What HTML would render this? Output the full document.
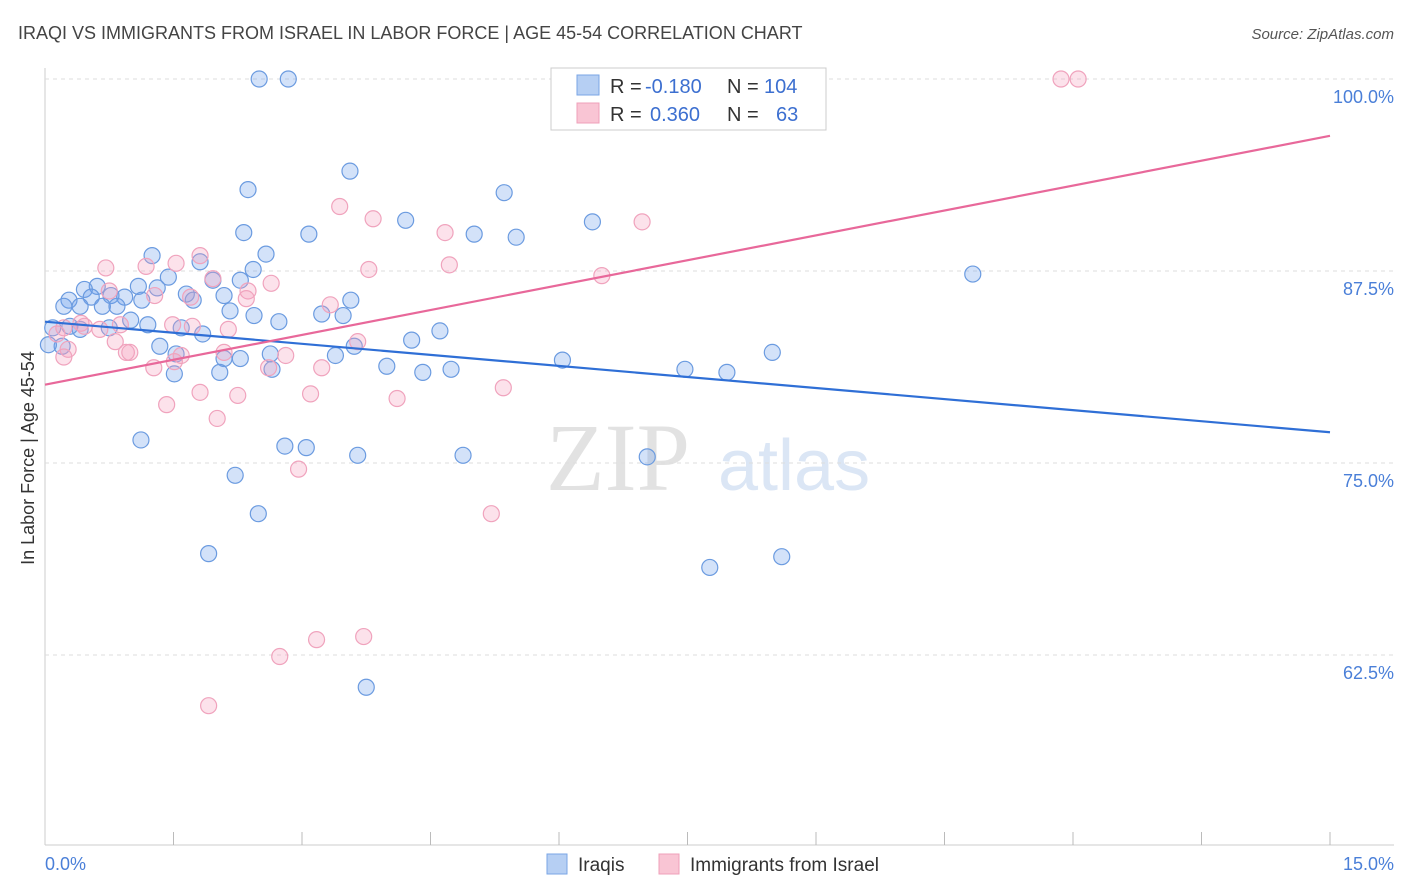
<!DOCTYPE html>
<html><head><meta charset="utf-8"><style>
body{margin:0;background:#fff;font-family:"Liberation Sans",sans-serif;}
svg{display:block}
</style></head><body>
<svg id="chart" width="1406" height="892">
<text x="18" y="39" font-size="18" fill="#444">IRAQI VS IMMIGRANTS FROM ISRAEL IN LABOR FORCE | AGE 45-54 CORRELATION CHART</text>
<text x="1394" y="39" font-size="15" fill="#555" font-style="italic" text-anchor="end">Source: ZipAtlas.com</text>
<text x="34" y="458" font-size="18" fill="#333" text-anchor="middle" transform="rotate(-90 34 458)">In Labor Force | Age 45-54</text>
<text x="690" y="490" font-size="96" fill="#e2e2e2" font-family="Liberation Serif,serif" text-anchor="end">ZIP</text>
<text x="718" y="490" font-size="72" fill="#dbe6f5">atlas</text>
<g id="grid"></g><g id="pts"></g><g id="lines"></g>
<g>
<rect x="551" y="68" width="275" height="62" fill="#fff" stroke="#ccc"/>
<rect x="577" y="75" width="22" height="20" fill="#b6cff3" stroke="#7aa6e6"/>
<rect x="577" y="103" width="22" height="20" fill="#f9c5d4" stroke="#efa0ba"/>
<text y="93" font-size="20" fill="#333"><tspan x="610">R =</tspan><tspan x="645" fill="#3c6fd0">-0.180</tspan><tspan x="727">N =</tspan><tspan x="764" fill="#3c6fd0">104</tspan></text>
<text y="121" font-size="20" fill="#333"><tspan x="610">R =</tspan><tspan x="650" fill="#3c6fd0">0.360</tspan><tspan x="727">N =</tspan><tspan x="776" fill="#3c6fd0">63</tspan></text>
</g>
<g>
<rect x="547" y="854" width="20" height="20" fill="#b6cff3" stroke="#7aa6e6"/>
<text x="578" y="871" font-size="19" fill="#333">Iraqis</text>
<rect x="659" y="854" width="20" height="20" fill="#f9c5d4" stroke="#efa0ba"/>
<text x="690" y="871" font-size="19" fill="#333">Immigrants from Israel</text>
</g>
</svg>
<script>
const yTicks=[100,87.5,75,62.5];
const xTickLabels=["0.0%","15.0%"];
const blueX=[2.5,2.84,3.56,5.36,2.37,4.21,6.39,2.32,3.08,5.01,5.5,1.25,2.58,10.83,1.81,2.43,1.44,1.96,2.28,0.61,0.46,1.09,1.31,1.65,2.09,3.57,0.28,0.54,0.77,0.93,1.73,1.13,0.41,0.22,0.67,0.84,3.23,2.16,3.48,2.73,2.44,1.0,1.2,0.29,0.09,0.41,0.75,1.59,1.84,4.28,4.61,2.63,3.61,1.34,1.53,3.39,2.09,2.28,0.2,0.04,2.04,1.51,2.65,3.99,4.41,4.74,6.04,7.47,7.96,8.49,1.12,2.8,3.05,3.65,4.88,7.03,2.22,2.49,1.91,7.76,8.6,3.75,6.6];
const blueY=[100,100,94.0,92.6,92.8,90.8,90.7,90.0,89.9,89.9,89.7,88.5,88.6,87.3,88.1,87.6,87.1,86.9,86.9,86.5,86.3,86.5,86.4,86.0,85.9,85.6,85.6,85.8,85.9,85.8,85.6,85.6,85.2,85.2,85.2,85.2,84.7,84.9,84.6,84.2,84.6,84.3,84.0,83.9,83.8,83.7,83.8,83.8,83.4,83.0,83.6,82.1,82.6,82.6,82.1,82.0,81.8,81.8,82.6,82.7,80.9,80.8,81.1,81.3,80.9,81.1,81.7,81.1,80.9,82.2,76.5,76.1,76.0,75.5,75.5,75.4,74.2,71.7,69.1,68.2,68.9,60.4,99.8];
const pinkX=[11.86,12.06,8.44,3.44,3.83,4.67,6.97,1.81,3.78,4.72,2.64,1.96,0.71,1.18,1.53,6.5,0.75,1.28,1.7,2.37,2.35,3.33,0.22,0.42,0.64,0.88,2.14,1.49,0.14,1.72,3.65,0.82,0.27,0.95,2.09,1.59,2.81,0.22,1.51,2.61,3.23,1.27,1.81,2.25,3.1,4.11,5.35,1.42,2.01,2.96,5.21,3.72,3.17,2.74,1.91,0.99,0.46];
const pinkY=[100,100,98.1,91.7,90.9,90.0,90.7,88.5,87.6,87.9,86.7,87.0,87.7,87.8,88.0,87.2,86.2,85.9,85.8,86.2,85.7,85.3,83.8,84.1,83.7,84.0,83.7,84.0,83.4,83.9,82.9,82.9,82.4,82.2,82.2,82.0,82.0,81.9,81.6,81.2,81.2,81.2,79.6,79.4,79.5,79.2,79.9,78.8,77.9,74.6,71.7,63.7,63.5,62.4,59.2,82.2,83.9];
const W=1406,X0=45,X1=1330,Y100=79,PX=15.36;
const sx=v=>X0+(v/15)*(X1-X0), sy=v=>Y100+(100-v)*PX;
const NS="http://www.w3.org/2000/svg";
function mk(t,a,p){const e=document.createElementNS(NS,t);for(const k in a)e.setAttribute(k,a[k]);p.appendChild(e);return e;}
const g=document.getElementById('grid');
mk('line',{x1:X0,y1:68,x2:X0,y2:845,stroke:'#ccc'},g);
mk('line',{x1:X0,y1:845,x2:1394,y2:845,stroke:'#ccc'},g);
for(let i=0;i<=10;i++){mk('line',{x1:sx(i*1.5),y1:845,x2:sx(i*1.5),y2:i==0?845:832,stroke:'#bbb'},g);}
yTicks.forEach(v=>{const l=mk('line',{x1:X0,y1:sy(v),x2:1394,y2:sy(v),stroke:'#ddd','stroke-dasharray':'4,4'},g);


const t=mk('text',{x:1394,y:sy(v)+24,'font-size':18,fill:'#4a7fd8','text-anchor':'end'},g);t.textContent=v.toFixed(1)+'%';

});
[0,15].forEach((v,i)=>{const t=mk('text',{x:i?1394:45,y:870,'font-size':18,fill:'#4a7fd8','text-anchor':i?'end':'start'},g);t.textContent=xTickLabels[i];

});
const p=document.getElementById('pts');
blueX.forEach((x,i)=>{const c=mk('circle',{cx:sx(x),cy:sy(blueY[i]),r:8,fill:'rgba(110,160,235,0.3)',stroke:'#6b9be0','stroke-width':1.2},p);

});
pinkX.forEach((x,i)=>{const c=mk('circle',{cx:sx(x),cy:sy(pinkY[i]),r:8,fill:'rgba(245,160,190,0.3)',stroke:'#f0a3bd','stroke-width':1.2},p);

});
const L=document.getElementById('lines');
const bl=mk('line',{x1:sx(0),y1:sy(84.2),x2:sx(15),y2:sy(77.0),stroke:'#2f6fd6','stroke-width':2.2},L);


const pl=mk('line',{x1:sx(0),y1:sy(80.1),x2:sx(15),y2:sy(96.3),stroke:'#e8689a','stroke-width':2.2},L);


</script>
</body></html>
